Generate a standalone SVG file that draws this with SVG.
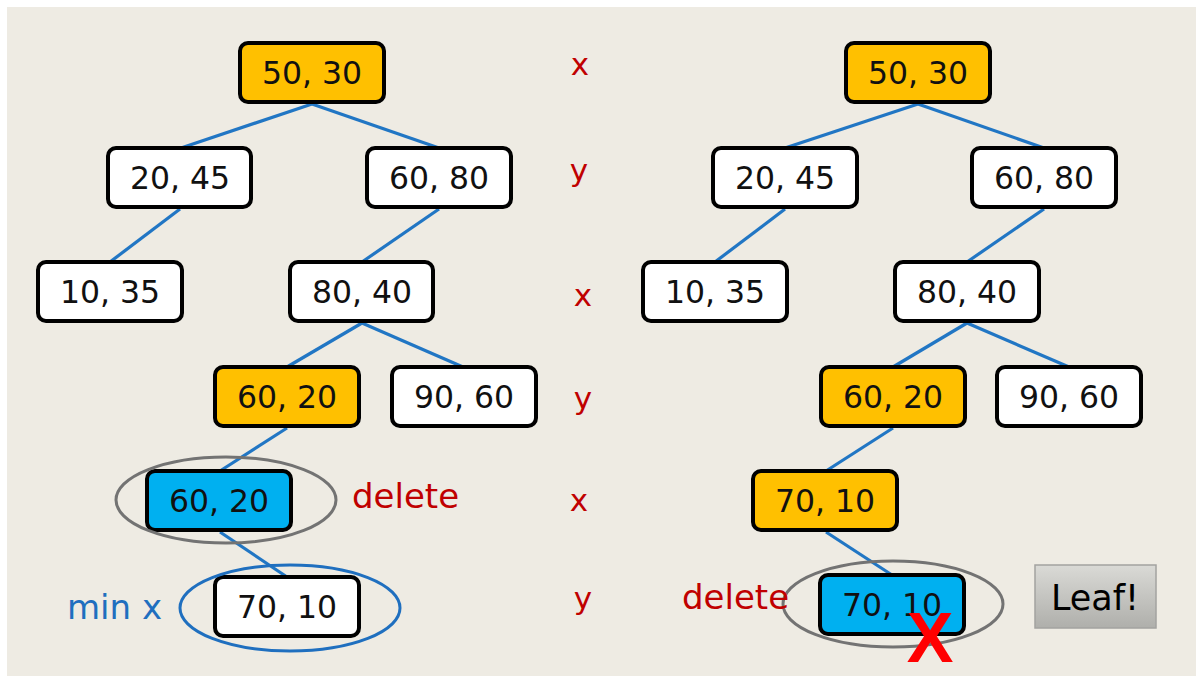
<svg xmlns="http://www.w3.org/2000/svg" width="1196" height="676" viewBox="0 0 1196 676">
  <defs>
    <linearGradient id="btnGrad" x1="0" y1="0" x2="0" y2="1">
      <stop offset="0" stop-color="#DADAD6"/>
      <stop offset="1" stop-color="#AFAFAB"/>
    </linearGradient>
    <style>
      .node rect { stroke: #000; stroke-width: 4; rx: 8; ry: 8; }
      .white rect { fill: #FFFFFF; }
      .gold rect { fill: #FFC000; }
      .cyan rect { fill: #00B0F0; }
      .node text { font-family: "DejaVu Sans", sans-serif; font-size: 31.5px; fill: #111; text-anchor: middle; }
      .edges line { stroke: #2176C4; stroke-width: 3.2; }
      .axis { font-family: "DejaVu Sans", sans-serif; font-size: 31px; fill: #C00000; text-anchor: middle; }
      .note { font-family: "DejaVu Sans", sans-serif; font-size: 34px; }
      .ring { fill: none; stroke-width: 3; }
    </style>
  </defs>

  <!-- canvas -->
  <rect x="0" y="0" width="1196" height="676" fill="#FFFFFF"/>
  <rect x="7" y="7" width="1189" height="669" fill="#EEEBE3"/>

  <!-- tree connectors -->
  <g id="connectors" class="edges">
    <!-- left tree -->
    <line x1="312" y1="104" x2="181" y2="148"/>
    <line x1="312" y1="104" x2="439" y2="148"/>
    <line x1="180" y1="209" x2="110" y2="262"/>
    <line x1="439" y1="209" x2="362" y2="262"/>
    <line x1="362" y1="323" x2="287" y2="367"/>
    <line x1="362" y1="323" x2="463" y2="367"/>
    <line x1="287" y1="428" x2="220" y2="471"/>
    <line x1="220" y1="532" x2="287" y2="577"/>
    <!-- right tree -->
    <line x1="918" y1="104" x2="785" y2="148"/>
    <line x1="918" y1="104" x2="1044" y2="148"/>
    <line x1="785" y1="209" x2="715" y2="262"/>
    <line x1="1044" y1="209" x2="967" y2="262"/>
    <line x1="967" y1="323" x2="893" y2="367"/>
    <line x1="967" y1="323" x2="1069" y2="367"/>
    <line x1="893" y1="428" x2="826" y2="471"/>
    <line x1="826" y1="532" x2="892" y2="575"/>
  </g>

  <!-- left tree nodes -->
  <g id="L-50-30" class="node gold"><rect x="240" y="43" width="144" height="59"/><text x="312" y="84">50, 30</text></g>
  <g id="L-20-45" class="node white"><rect x="108" y="148" width="143" height="59"/><text x="180" y="189">20, 45</text></g>
  <g id="L-60-80" class="node white"><rect x="367" y="148" width="144" height="59"/><text x="439" y="189">60, 80</text></g>
  <g id="L-10-35" class="node white"><rect x="38" y="262" width="144" height="59"/><text x="110" y="303">10, 35</text></g>
  <g id="L-80-40" class="node white"><rect x="290" y="262" width="143" height="59"/><text x="362" y="303">80, 40</text></g>
  <g id="L-60-20" class="node gold"><rect x="215" y="367" width="144" height="59"/><text x="287" y="408">60, 20</text></g>
  <g id="L-90-60" class="node white"><rect x="392" y="367" width="144" height="59"/><text x="464" y="408">90, 60</text></g>
  <g id="L-60-20-del" class="node cyan"><rect x="147" y="471" width="144" height="59"/><text x="219" y="512">60, 20</text></g>
  <g id="L-70-10" class="node white"><rect x="215" y="577" width="144" height="59"/><text x="287" y="618">70, 10</text></g>

  <!-- right tree nodes -->
  <g id="R-50-30" class="node gold"><rect x="846" y="43" width="144" height="59"/><text x="918" y="84">50, 30</text></g>
  <g id="R-20-45" class="node white"><rect x="713" y="148" width="144" height="59"/><text x="785" y="189">20, 45</text></g>
  <g id="R-60-80" class="node white"><rect x="972" y="148" width="144" height="59"/><text x="1044" y="189">60, 80</text></g>
  <g id="R-10-35" class="node white"><rect x="643" y="262" width="144" height="59"/><text x="715" y="303">10, 35</text></g>
  <g id="R-80-40" class="node white"><rect x="895" y="262" width="144" height="59"/><text x="967" y="303">80, 40</text></g>
  <g id="R-60-20" class="node gold"><rect x="821" y="367" width="144" height="59"/><text x="893" y="408">60, 20</text></g>
  <g id="R-90-60" class="node white"><rect x="997" y="367" width="144" height="59"/><text x="1069" y="408">90, 60</text></g>
  <g id="R-70-10" class="node gold"><rect x="753" y="471" width="144" height="59"/><text x="825" y="512">70, 10</text></g>
  <g id="R-70-10-del" class="node cyan"><rect x="820" y="575" width="144" height="59"/><text x="892" y="616">70, 10</text></g>

  <!-- highlight rings -->
  <g id="rings">
    <ellipse class="ring" cx="226" cy="500" rx="110" ry="43" stroke="#737373"/>
    <ellipse class="ring" cx="290" cy="608" rx="110" ry="43" stroke="#1F6FBF"/>
    <ellipse class="ring" cx="893" cy="604" rx="110" ry="43" stroke="#737373"/>
  </g>

  <!-- splitting axis per level -->
  <g id="axes">
    <text class="axis" x="580" y="75">x</text>
    <text class="axis" x="579" y="181">y</text>
    <text class="axis" x="583" y="306">x</text>
    <text class="axis" x="583" y="409">y</text>
    <text class="axis" x="579" y="511">x</text>
    <text class="axis" x="583" y="609">y</text>
  </g>

  <!-- annotations -->
  <text class="note" x="352" y="508" fill="#C00000">delete</text>
  <text class="note" x="67" y="619" fill="#1F6FBF">min x</text>
  <text class="note" x="682" y="609" fill="#C00000">delete</text>

  <!-- removal mark -->
  <text x="930" y="662" font-family="Liberation Sans, sans-serif" font-size="70" font-weight="bold" fill="#FF0000" text-anchor="middle">X</text>

  <!-- leaf badge -->
  <g id="leaf-badge">
    <rect x="1035" y="565" width="121" height="63" fill="url(#btnGrad)" stroke="#A3A3A0" stroke-width="1.5"/>
    <text x="1095" y="610" font-family="DejaVu Sans, sans-serif" font-size="35" fill="#000" text-anchor="middle">Leaf!</text>
  </g>
</svg>
